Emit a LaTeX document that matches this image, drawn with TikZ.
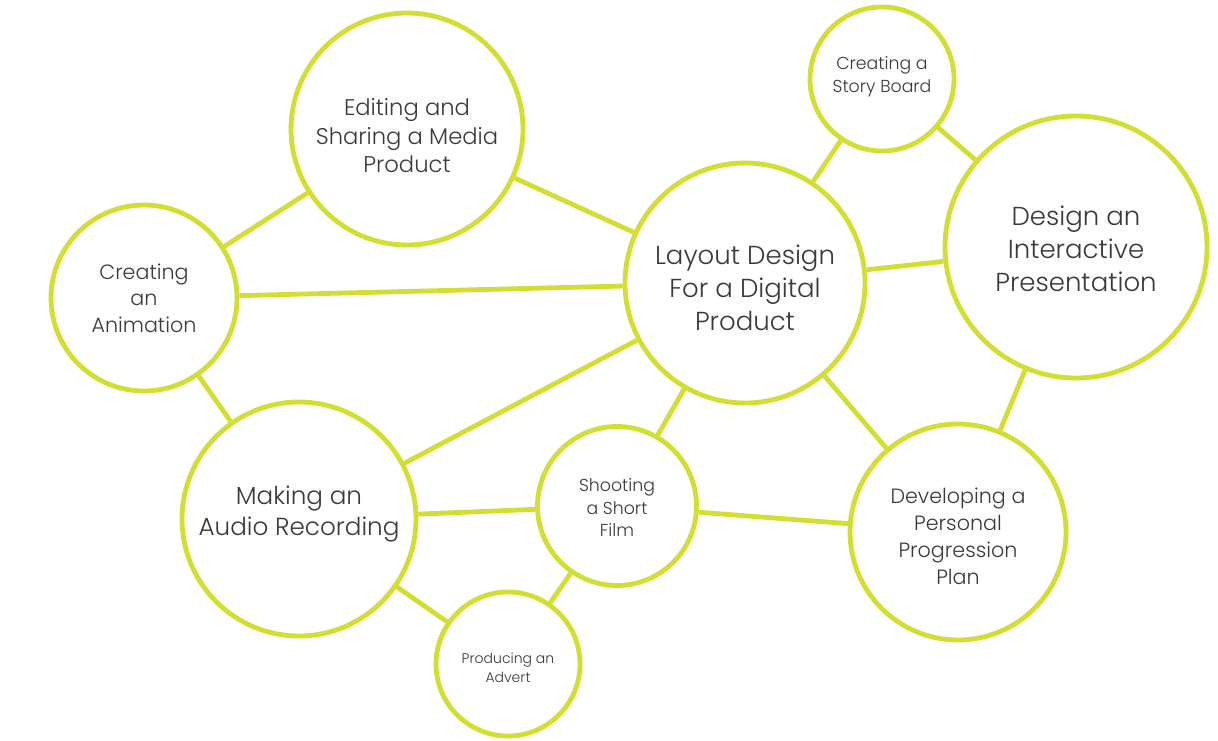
\documentclass[tikz,border=0pt]{standalone}
\usepackage{fontspec}
\setmainfont{Poppins Light}
\definecolor{lime}{HTML}{D2DE32}
\definecolor{txt}{HTML}{3A3A3A}
\tikzset{
  bub/.style={circle, draw=lime, line width=3.6pt, inner sep=0pt, fill=white},
  lbl/.style={align=center, text=txt, inner sep=0pt},
  link/.style={draw=lime, line width=3.6pt},
}
\begin{document}
\begin{tikzpicture}[x=0.75pt,y=-0.75pt]
\useasboundingbox (0,0) rectangle (1218,741);
\node[bub, minimum size=232*0.75pt] (edit) at (407,129) {};
\node[bub, minimum size=144*0.75pt] (story) at (882,79) {};
\node[bub, minimum size=262*0.75pt] (design) at (1076,247) {};
\node[bub, minimum size=240*0.75pt] (layout) at (745,283) {};
\node[bub, minimum size=186*0.75pt] (anim) at (144,298) {};
\node[bub, minimum size=234*0.75pt] (audio) at (299,519) {};
\node[bub, minimum size=159*0.75pt] (film) at (617,506) {};
\node[bub, minimum size=216*0.75pt] (plan) at (958,532) {};
\node[bub, minimum size=144*0.75pt] (advert) at (508,664) {};
\node[lbl, font=\fontsize{17}{21.4}\selectfont] (editT) at (407,136) {Editing and\\Sharing a Media\\Product};
\node[lbl, font=\fontsize{13}{17}\selectfont] (storyT) at (882,77) {Creating a\\Story Board};
\node[lbl, font=\fontsize{19.5}{24.75}\selectfont] (designT) at (1076,248.5) {Design an\\Interactive\\Presentation};
\node[lbl, font=\fontsize{19.5}{24.75}\selectfont] (layoutT) at (745,288) {Layout Design\\For a Digital\\Product};
\node[lbl, font=\fontsize{15.5}{20}\selectfont] (animT) at (144,298) {Creating\\an\\Animation};
\node[lbl, font=\fontsize{18.5}{23}\selectfont] (audioT) at (299,514) {Making an\\Audio Recording};
\node[lbl, font=\fontsize{13}{17}\selectfont] (filmT) at (617,507.5) {Shooting\\a Short\\Film};
\node[lbl, font=\fontsize{15.5}{20.3}\selectfont] (planT) at (958,536.5) {Developing a\\Personal\\Progression\\Plan};
\node[lbl, font=\fontsize{10.5}{14.2}\selectfont] (advertT) at (508,667.5) {Producing an\\Advert};
\draw[link] (edit) -- (anim);
\draw[link] (edit) -- (layout);
\draw[link] (anim) -- (layout);
\draw[link] (anim) -- (audio);
\draw[link] (audio) -- (layout);
\draw[link] (audio) -- (film);
\draw[link] (audio) -- (advert);
\draw[link] (film) -- (advert);
\draw[link] (film) -- (layout);
\draw[link] (film) -- (plan);
\draw[link] (layout) -- (plan);
\draw[link] (layout) -- (design);
\draw[link] (layout) -- (story);
\draw[link] (story) -- (design);
\draw[link] (design) -- (plan);
\end{tikzpicture}
\end{document}
